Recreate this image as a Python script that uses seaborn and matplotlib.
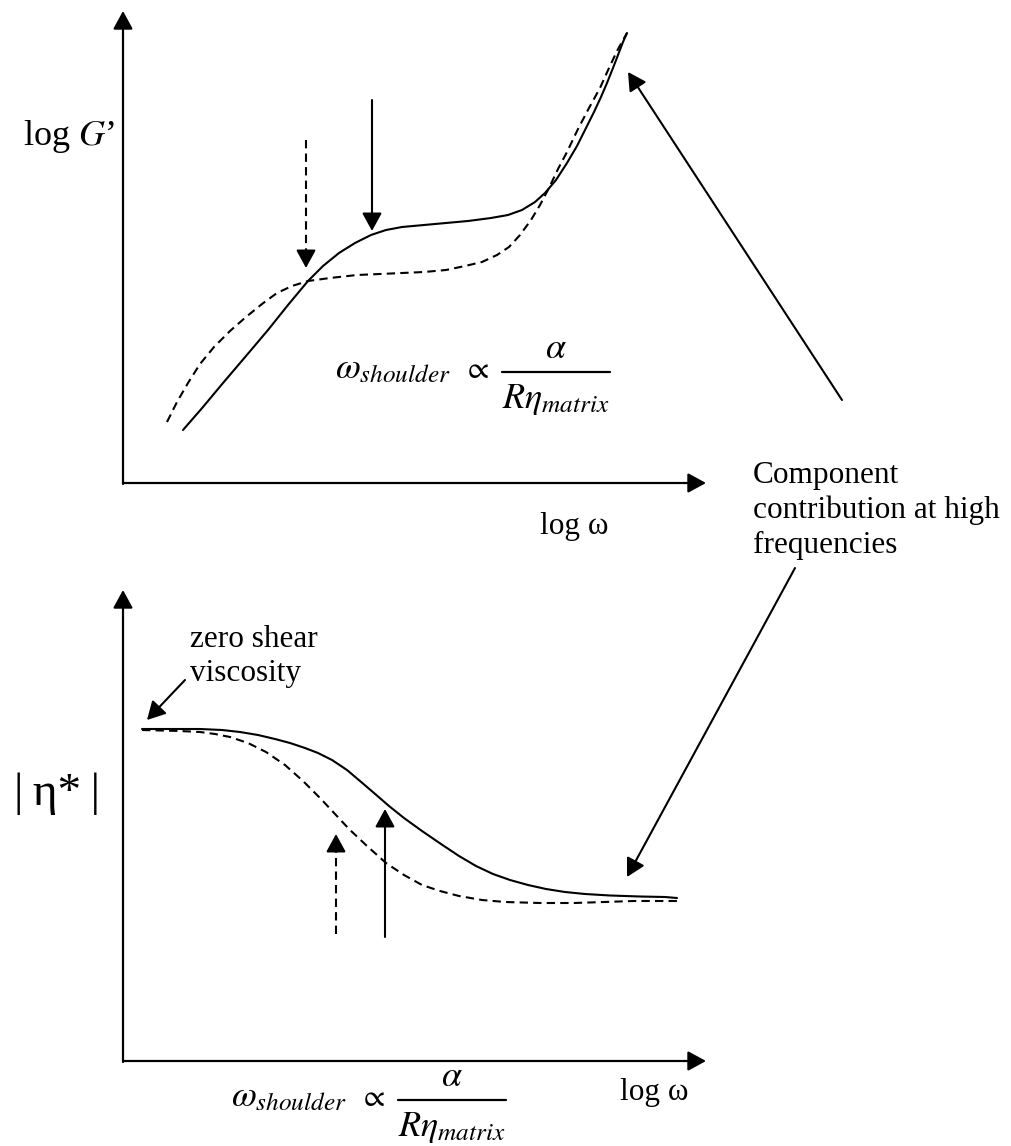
import matplotlib
matplotlib.use("Agg")
import matplotlib.pyplot as plt
import seaborn as sns
import pandas as pd

# ---------------- data (pixel frame: x right, y down) -------------
# Upper panel: log G' vs log omega
g_solid_x = [183, 203, 223, 246, 268, 288, 308, 323, 339, 355, 371, 386, 402, 424, 446, 468,
             491, 508, 522, 535, 545, 556, 567, 577, 586, 594, 601, 607, 613, 618, 623, 627]
g_solid_y = [430, 407, 383, 356, 330, 305, 281, 266, 253, 243, 235, 230, 227, 225, 223, 221,
             218, 215, 210, 202, 193, 180, 163, 146, 128, 112, 97, 83, 68, 55, 42, 33]
g_dash_x = [167, 177, 188, 200, 214, 230, 246, 262, 277, 292, 308, 330, 357, 380, 402, 424,
            446, 465, 482, 497, 509, 520, 531, 540, 549, 558, 567, 578, 589, 600, 609, 617, 623, 627]
g_dash_y = [422, 402, 383, 364, 347, 331, 317, 304, 293, 286, 281, 278, 275, 274, 273, 272,
            270, 266, 262, 255, 247, 235, 220, 205, 188, 169, 152, 129, 108, 88, 68, 51, 40, 33]

# Lower panel: |eta*| vs log omega
e_solid_x = [142, 170, 200, 222, 240, 258, 275, 290, 305, 318, 332, 347, 360, 374, 389, 404,
             422, 441, 459, 476, 493, 510, 528, 546, 565, 585, 610, 640, 665, 677]
e_solid_y = [729, 729, 729, 730, 732, 735, 739, 743, 748, 753, 760, 770, 781, 793, 806, 818,
             831, 844, 856, 866, 874, 880, 885, 889, 892, 894, 895.5, 896.5, 897, 898]
e_dash_x = [142, 180, 200, 215, 230, 248, 266, 285, 303, 321, 335, 349, 367, 386, 404, 422,
            440, 459, 482, 505, 540, 574, 604, 634, 660, 682]
e_dash_y = [730, 731, 732, 734, 737, 743, 752, 765, 781, 799, 814, 829, 846, 863, 875, 885,
            891, 896, 900, 902, 903, 903, 902, 901, 901, 901]

# text
ylabel_top = "log $G$\u2019"
ylabel_bot = "|\u2009\u03b7*\u2009|"
xlabel = "log \u03c9"
formula_lhs = r"$\omega_{shoulder}$"
formula_rel = r"$\propto$"
formula_num = r"$\alpha$"
formula_den = r"$R\eta_{matrix}$"
note_lines = ["Component", "contribution at high", "frequencies"]
zero_lines = ["zero shear", "viscosity"]

# ---------------- styling ----------------
sns.set_theme(style="white")
plt.rcParams["font.family"] = ["Liberation Serif", "DejaVu Serif"]
plt.rcParams["mathtext.fontset"] = "stix"
plt.rcParams["text.color"] = "black"

W, H = 1012, 1146
fig = plt.figure(figsize=(W / 100, H / 100), dpi=100)
ax = fig.add_axes([0, 0, 1, 1])
ax.set_xlim(0, W)
ax.set_ylim(H, 0)
ax.axis("off")

LW = 1.5
DASH = (0, (4, 2.5))
HEAD = "-|>,head_length=0.55,head_width=0.3"


def curve(xs, ys, dashed=False):
    df = pd.DataFrame({"x": xs, "y": ys})
    sns.lineplot(data=df, x="x", y="y", sort=False, estimator=None, color="black",
                 lw=LW, linestyle=DASH if dashed else "-", ax=ax)


curve(g_solid_x, g_solid_y)
curve(g_dash_x, g_dash_y, dashed=True)
curve(e_solid_x, e_solid_y)
curve(e_dash_x, e_dash_y, dashed=True)


def arrow(x0, y0, x1, y1, lw=LW):
    ax.annotate("", xy=(x1, y1), xytext=(x0, y0),
                arrowprops=dict(arrowstyle=HEAD, mutation_scale=20, color="black", lw=lw,
                                shrinkA=0, shrinkB=0))


def dashed_vertical_arrow(x, y0, y1):
    # dashed shaft, solid head
    step = 14 if y1 > y0 else -14
    ax.plot([x, x], [y0, y1 - step], color="black", lw=LW, linestyle=DASH)
    ax.annotate("", xy=(x, y1), xytext=(x, y1 - step),
                arrowprops=dict(arrowstyle=HEAD, mutation_scale=20, color="black", lw=LW,
                                shrinkA=0, shrinkB=0))


def formula(x, ybar):
    # omega_shoulder ∝ alpha / (R eta_matrix), laid out like the reference
    ax.text(x, ybar + 6, formula_lhs, fontsize=26, ha="left", va="baseline")
    ax.text(x + 128, ybar + 6, formula_rel, fontsize=22, ha="left", va="baseline")
    xc = x + 221
    ax.text(xc, ybar - 14, formula_num, fontsize=26, ha="center", va="baseline")
    ax.plot([x + 167, x + 275], [ybar, ybar], color="black", lw=1.6)
    ax.text(xc, ybar + 36, formula_den, fontsize=26, ha="center", va="baseline")


# axes of both panels
arrow(123, 484, 123, 11, lw=1.6)
arrow(123, 483, 706, 483, lw=1.6)
arrow(123, 1062, 123, 590, lw=1.6)
arrow(123, 1061, 706, 1061, lw=1.6)

# shoulder markers
dashed_vertical_arrow(306, 140, 268)
arrow(372, 100, 372, 231)
dashed_vertical_arrow(336, 934, 834)
arrow(385, 937, 385, 809)

# callout arrows
arrow(842, 400, 628, 72)
arrow(795, 568, 627, 877)
arrow(185, 680, 147, 720)

# labels
ax.text(23, 145, ylabel_top, fontsize=26, ha="left", va="baseline")
ax.text(14, 805, ylabel_bot, fontsize=34, ha="left", va="baseline")
ax.text(540, 534, xlabel, fontsize=22.5, ha="left", va="baseline")
ax.text(620, 1100, xlabel, fontsize=22.5, ha="left", va="baseline")

for i, line in enumerate(note_lines):
    ax.text(753, 483 + 35 * i, line, fontsize=22.5, ha="left", va="baseline")
for i, line in enumerate(zero_lines):
    ax.text(190, 647 + 34 * i, line, fontsize=22.5, ha="left", va="baseline")

formula(335, 372)
formula(231, 1100)

fig.savefig("out.png", dpi=100)
